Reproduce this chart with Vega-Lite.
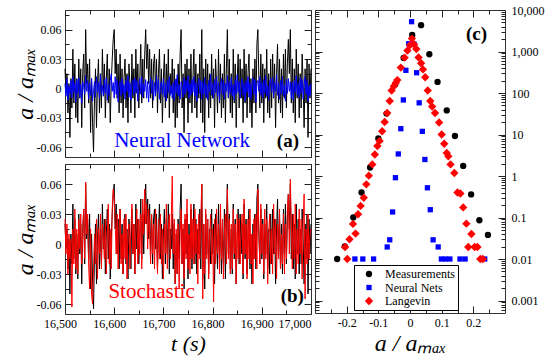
{
"$schema": "https://vega.github.io/schema/vega-lite/v6.json",
"autosize": {"type": "pad"},
"padding": {"left": 12, "top": 3, "right": 2, "bottom": 2},
"background": "#ffffff",
"config": {
  "font": "Liberation Serif",
  "view": {"stroke": "#333333", "strokeWidth": 1},
  "axis": {"domain": false, "grid": false, "labelFont": "Liberation Serif", "labelFontSize": 12, "labelColor": "#000000", "tickColor": "#222222", "tickWidth": 1, "titleFont": "Liberation Serif", "titleFontSize": 24, "titleFontWeight": "normal", "titleFontStyle": "italic", "titleColor": "#000000", "labelOverlap": false, "labelBound": false, "labelFlush": false}
},
"datasets": {
"ts": [
{"t":16500,"m":0.02,"n":0.005,"s":0.025},
{"t":16502,"m":-0.005,"n":-0.008,"s":-0.01},
{"t":16504,"m":0.015,"n":0.01,"s":0.02},
{"t":16506,"m":-0.025,"n":-0.012,"s":-0.03},
{"t":16508,"m":0.005,"n":0.003,"s":0.01},
{"t":16510,"m":-0.05,"n":-0.006,"s":-0.015},
{"t":16512,"m":0.01,"n":0.008,"s":0.005},
{"t":16514,"m":-0.02,"n":-0.01,"s":-0.063},
{"t":16516,"m":0.04,"n":0.012,"s":0.015},
{"t":16518,"m":-0.015,"n":-0.004,"s":-0.02},
{"t":16520,"m":0.025,"n":0.006,"s":0.035},
{"t":16522,"m":-0.03,"n":-0.014,"s":-0.025},
{"t":16524,"m":0.01,"n":0.009,"s":0.015},
{"t":16526,"m":-0.035,"n":-0.005,"s":-0.03},
{"t":16528,"m":0.03,"n":0.011,"s":0.025},
{"t":16530,"m":-0.01,"n":-0.009,"s":-0.005},
{"t":16532,"m":0.02,"n":0.004,"s":0.03},
{"t":16534,"m":-0.04,"n":-0.015,"s":-0.02},
{"t":16536,"m":0.015,"n":0.007,"s":0.01},
{"t":16538,"m":0.035,"n":0.002,"s":0.035},
{"t":16540,"m":-0.02,"n":-0.006,"s":-0.015},
{"t":16542,"m":0.06,"n":0.013,"s":0.062},
{"t":16544,"m":0.005,"n":-0.003,"s":0.01},
{"t":16546,"m":0.025,"n":0.008,"s":0.03},
{"t":16548,"m":-0.015,"n":-0.011,"s":-0.02},
{"t":16550,"m":0.03,"n":0.005,"s":-0.045},
{"t":16552,"m":-0.045,"n":-0.007,"s":0.015},
{"t":16554,"m":0.01,"n":0.01,"s":-0.05},
{"t":16556,"m":-0.035,"n":-0.013,"s":-0.06},
{"t":16558,"m":-0.065,"n":-0.002,"s":-0.025},
{"t":16560,"m":-0.01,"n":0.007,"s":0.01},
{"t":16562,"m":0.02,"n":-0.009,"s":-0.02},
{"t":16564,"m":-0.04,"n":0.012,"s":0.025},
{"t":16566,"m":0.005,"n":-0.004,"s":-0.035},
{"t":16568,"m":0.03,"n":0.006,"s":0.015},
{"t":16570,"m":-0.025,"n":-0.01,"s":-0.01},
{"t":16572,"m":0.015,"n":0.014,"s":0.03},
{"t":16574,"m":-0.02,"n":-0.006,"s":-0.025},
{"t":16576,"m":0.04,"n":0.003,"s":0.02},
{"t":16578,"m":-0.005,"n":-0.008,"s":0.005},
{"t":16580,"m":0.025,"n":0.009,"s":-0.015},
{"t":16582,"m":-0.03,"n":-0.005,"s":0.025},
{"t":16584,"m":0.01,"n":0.011,"s":-0.03},
{"t":16586,"m":0.035,"n":-0.012,"s":0.01},
{"t":16588,"m":-0.015,"n":0.004,"s":0.04},
{"t":16590,"m":0.02,"n":-0.007,"s":-0.02},
{"t":16592,"m":-0.035,"n":0.008,"s":0.015},
{"t":16594,"m":0.005,"n":0.015,"s":-0.025},
{"t":16596,"m":0.03,"n":-0.003,"s":0.035},
{"t":16598,"m":0.05,"n":0.006,"s":0.055},
{"t":16600,"m":0.06,"n":-0.01,"s":0.045},
{"t":16602,"m":0.015,"n":0.012,"s":0.02},
{"t":16604,"m":0.04,"n":-0.006,"s":-0.01},
{"t":16606,"m":-0.01,"n":0.009,"s":0.03},
{"t":16608,"m":0.025,"n":-0.014,"s":-0.025},
{"t":16610,"m":-0.025,"n":0.003,"s":0.015},
{"t":16612,"m":0.035,"n":0.007,"s":0.035},
{"t":16614,"m":-0.015,"n":-0.008,"s":-0.02},
{"t":16616,"m":0.02,"n":0.01,"s":0.01},
{"t":16618,"m":-0.03,"n":-0.005,"s":-0.03},
{"t":16620,"m":0.01,"n":0.004,"s":0.025},
{"t":16622,"m":0.03,"n":-0.011,"s":-0.015},
{"t":16624,"m":-0.02,"n":0.008,"s":0.03},
{"t":16626,"m":0.015,"n":-0.003,"s":-0.035},
{"t":16628,"m":-0.035,"n":0.013,"s":0.01},
{"t":16630,"m":0.025,"n":-0.009,"s":0.02},
{"t":16632,"m":0.005,"n":0.006,"s":-0.025},
{"t":16634,"m":-0.025,"n":-0.012,"s":0.015},
{"t":16636,"m":0.035,"n":0.005,"s":0.04},
{"t":16638,"m":-0.01,"n":0.009,"s":-0.01},
{"t":16640,"m":0.02,"n":-0.007,"s":0.02},
{"t":16642,"m":-0.03,"n":0.011,"s":-0.03},
{"t":16644,"m":0.04,"n":-0.004,"s":0.015},
{"t":16646,"m":-0.005,"n":0.008,"s":0.035},
{"t":16648,"m":0.025,"n":-0.013,"s":-0.02},
{"t":16650,"m":-0.02,"n":0.002,"s":0.025},
{"t":16652,"m":0.01,"n":0.01,"s":-0.01},
{"t":16654,"m":0.045,"n":-0.006,"s":0.03},
{"t":16656,"m":-0.015,"n":0.012,"s":-0.025},
{"t":16658,"m":0.03,"n":-0.009,"s":0.045},
{"t":16660,"m":-0.01,"n":0.005,"s":0.01},
{"t":16662,"m":0.035,"n":-0.003,"s":0.055},
{"t":16664,"m":0.06,"n":0.009,"s":0.02},
{"t":16666,"m":0.02,"n":-0.01,"s":0.04},
{"t":16668,"m":0.045,"n":0.007,"s":-0.005},
{"t":16670,"m":0.005,"n":-0.014,"s":0.035},
{"t":16672,"m":0.04,"n":0.004,"s":0.015},
{"t":16674,"m":-0.01,"n":0.011,"s":-0.02},
{"t":16676,"m":0.03,"n":-0.005,"s":0.03},
{"t":16678,"m":-0.02,"n":0.008,"s":-0.01},
{"t":16680,"m":0.025,"n":-0.012,"s":0.02},
{"t":16682,"m":0.035,"n":0.006,"s":-0.025},
{"t":16684,"m":-0.005,"n":-0.008,"s":0.035},
{"t":16686,"m":0.03,"n":0.013,"s":0.005},
{"t":16688,"m":-0.025,"n":-0.004,"s":-0.03},
{"t":16690,"m":0.015,"n":0.009,"s":0.025},
{"t":16692,"m":0.04,"n":-0.011,"s":-0.015},
{"t":16694,"m":-0.015,"n":0.003,"s":0.03},
{"t":16696,"m":0.02,"n":0.007,"s":-0.02},
{"t":16698,"m":-0.035,"n":-0.006,"s":0.015},
{"t":16700,"m":0.01,"n":0.01,"s":-0.035},
{"t":16702,"m":0.035,"n":-0.009,"s":0.02},
{"t":16704,"m":-0.02,"n":0.005,"s":-0.01},
{"t":16706,"m":0.025,"n":-0.013,"s":0.04},
{"t":16708,"m":-0.01,"n":0.008,"s":-0.025},
{"t":16710,"m":0.04,"n":-0.004,"s":0.015},
{"t":16712,"m":-0.03,"n":0.012,"s":0.03},
{"t":16714,"m":0.015,"n":-0.007,"s":-0.015},
{"t":16716,"m":-0.005,"n":0.003,"s":0.025},
{"t":16718,"m":0.03,"n":-0.01,"s":0.068},
{"t":16720,"m":-0.025,"n":0.006,"s":-0.01},
{"t":16722,"m":0.02,"n":-0.012,"s":0.025},
{"t":16724,"m":-0.04,"n":0.009,"s":-0.04},
{"t":16726,"m":0.01,"n":-0.005,"s":0.015},
{"t":16728,"m":-0.03,"n":0.014,"s":-0.03},
{"t":16730,"m":0.025,"n":-0.008,"s":0.02},
{"t":16732,"m":-0.015,"n":0.004,"s":-0.045},
{"t":16734,"m":0.035,"n":-0.011,"s":0.01},
{"t":16736,"m":0.06,"n":0.007,"s":0.035},
{"t":16738,"m":-0.02,"n":0.002,"s":-0.02},
{"t":16740,"m":0.015,"n":-0.009,"s":0.02},
{"t":16742,"m":-0.045,"n":0.011,"s":-0.035},
{"t":16744,"m":0.025,"n":-0.006,"s":0.03},
{"t":16746,"m":-0.01,"n":0.008,"s":-0.015},
{"t":16748,"m":0.03,"n":-0.003,"s":0.045},
{"t":16750,"m":-0.035,"n":0.013,"s":-0.025},
{"t":16752,"m":0.02,"n":-0.01,"s":0.01},
{"t":16754,"m":-0.015,"n":0.005,"s":-0.03},
{"t":16756,"m":0.035,"n":-0.007,"s":0.04},
{"t":16758,"m":-0.025,"n":0.009,"s":-0.015},
{"t":16760,"m":0.01,"n":-0.004,"s":0.025},
{"t":16762,"m":0.04,"n":0.012,"s":-0.02},
{"t":16764,"m":-0.02,"n":-0.008,"s":0.035},
{"t":16766,"m":0.025,"n":0.006,"s":-0.01},
{"t":16768,"m":-0.03,"n":-0.013,"s":0.02},
{"t":16770,"m":0.015,"n":0.003,"s":-0.04},
{"t":16772,"m":-0.01,"n":0.01,"s":0.03},
{"t":16774,"m":0.035,"n":-0.005,"s":-0.015},
{"t":16776,"m":-0.025,"n":0.008,"s":0.025},
{"t":16778,"m":0.06,"n":-0.011,"s":0.06},
{"t":16780,"m":-0.035,"n":0.007,"s":-0.055},
{"t":16782,"m":0.02,"n":-0.006,"s":0.02},
{"t":16784,"m":-0.045,"n":0.011,"s":-0.03},
{"t":16786,"m":0.03,"n":-0.009,"s":0.035},
{"t":16788,"m":-0.01,"n":0.004,"s":-0.015},
{"t":16790,"m":0.025,"n":-0.012,"s":0.025},
{"t":16792,"m":-0.03,"n":0.008,"s":-0.035},
{"t":16794,"m":0.015,"n":-0.003,"s":0.01},
{"t":16796,"m":-0.02,"n":0.014,"s":0.03},
{"t":16798,"m":0.035,"n":-0.007,"s":-0.02},
{"t":16800,"m":-0.01,"n":0.005,"s":0.015},
{"t":16802,"m":0.02,"n":-0.01,"s":-0.058},
{"t":16804,"m":-0.04,"n":0.009,"s":0.025},
{"t":16806,"m":0.03,"n":-0.004,"s":-0.02},
{"t":16808,"m":0.005,"n":0.012,"s":0.035},
{"t":16810,"m":-0.025,"n":-0.008,"s":-0.01},
{"t":16812,"m":0.04,"n":0.006,"s":0.02},
{"t":16814,"m":-0.015,"n":-0.013,"s":-0.03},
{"t":16816,"m":0.025,"n":0.003,"s":0.04},
{"t":16818,"m":-0.03,"n":0.01,"s":-0.015},
{"t":16820,"m":0.015,"n":-0.006,"s":0.025},
{"t":16822,"m":-0.02,"n":0.008,"s":-0.035},
{"t":16824,"m":0.035,"n":-0.011,"s":0.01},
{"t":16826,"m":-0.035,"n":0.005,"s":0.03},
{"t":16828,"m":0.02,"n":-0.003,"s":-0.02},
{"t":16830,"m":0.06,"n":0.013,"s":0.055},
{"t":16832,"m":-0.01,"n":-0.009,"s":-0.015},
{"t":16834,"m":0.03,"n":0.007,"s":0.025},
{"t":16836,"m":-0.025,"n":-0.005,"s":-0.03},
{"t":16838,"m":0.015,"n":0.011,"s":0.02},
{"t":16840,"m":-0.03,"n":-0.008,"s":-0.025},
{"t":16842,"m":0.04,"n":0.004,"s":0.035},
{"t":16844,"m":-0.015,"n":-0.012,"s":-0.01},
{"t":16846,"m":0.025,"n":0.009,"s":0.02},
{"t":16848,"m":-0.04,"n":-0.006,"s":-0.04},
{"t":16850,"m":0.01,"n":0.014,"s":0.03},
{"t":16852,"m":0.035,"n":-0.004,"s":-0.015},
{"t":16854,"m":-0.02,"n":0.007,"s":0.025},
{"t":16856,"m":0.03,"n":-0.01,"s":-0.02},
{"t":16858,"m":-0.01,"n":0.003,"s":0.015},
{"t":16860,"m":0.02,"n":0.01,"s":0.03},
{"t":16862,"m":-0.035,"n":-0.007,"s":-0.03},
{"t":16864,"m":0.04,"n":0.005,"s":0.045},
{"t":16866,"m":-0.015,"n":-0.013,"s":-0.01},
{"t":16868,"m":0.025,"n":0.008,"s":0.02},
{"t":16870,"m":-0.03,"n":-0.004,"s":-0.035},
{"t":16872,"m":0.015,"n":0.012,"s":0.025},
{"t":16874,"m":0.035,"n":-0.009,"s":-0.015},
{"t":16876,"m":-0.025,"n":0.006,"s":0.035},
{"t":16878,"m":0.01,"n":-0.011,"s":-0.02},
{"t":16880,"m":-0.04,"n":0.004,"s":0.01},
{"t":16882,"m":0.02,"n":0.011,"s":-0.04},
{"t":16884,"m":-0.015,"n":-0.006,"s":0.025},
{"t":16886,"m":0.03,"n":0.009,"s":-0.015},
{"t":16888,"m":-0.025,"n":-0.014,"s":0.03},
{"t":16890,"m":0.045,"n":0.005,"s":-0.025},
{"t":16892,"m":0.06,"n":0.008,"s":0.055},
{"t":16894,"m":0.01,"n":-0.003,"s":0.015},
{"t":16896,"m":-0.02,"n":0.012,"s":-0.02},
{"t":16898,"m":0.035,"n":-0.007,"s":0.04},
{"t":16900,"m":-0.015,"n":0.006,"s":-0.01},
{"t":16902,"m":0.025,"n":-0.01,"s":0.02},
{"t":16904,"m":-0.035,"n":0.009,"s":-0.03},
{"t":16906,"m":0.02,"n":-0.005,"s":0.035},
{"t":16908,"m":-0.01,"n":0.013,"s":-0.015},
{"t":16910,"m":0.04,"n":-0.008,"s":0.025},
{"t":16912,"m":-0.025,"n":0.003,"s":-0.04},
{"t":16914,"m":0.015,"n":-0.012,"s":0.01},
{"t":16916,"m":-0.03,"n":0.007,"s":0.03},
{"t":16918,"m":0.03,"n":0.01,"s":-0.02},
{"t":16920,"m":-0.02,"n":-0.004,"s":0.015},
{"t":16922,"m":0.035,"n":0.011,"s":-0.03},
{"t":16924,"m":-0.01,"n":-0.009,"s":0.04},
{"t":16926,"m":0.025,"n":0.006,"s":-0.01},
{"t":16928,"m":-0.04,"n":-0.003,"s":0.025},
{"t":16930,"m":0.015,"n":0.014,"s":-0.035},
{"t":16932,"m":0.045,"n":-0.007,"s":0.02},
{"t":16934,"m":-0.015,"n":0.005,"s":-0.015},
{"t":16936,"m":0.03,"n":-0.011,"s":0.035},
{"t":16938,"m":-0.025,"n":0.008,"s":-0.025},
{"t":16940,"m":0.02,"n":-0.006,"s":0.01},
{"t":16942,"m":-0.03,"n":0.012,"s":-0.02},
{"t":16944,"m":0.035,"n":-0.008,"s":0.03},
{"t":16946,"m":-0.01,"n":0.004,"s":-0.03},
{"t":16948,"m":0.04,"n":-0.013,"s":0.02},
{"t":16950,"m":-0.02,"n":0.009,"s":-0.015},
{"t":16952,"m":0.025,"n":-0.005,"s":0.035},
{"t":16954,"m":0.05,"n":0.01,"s":0.05},
{"t":16956,"m":0.015,"n":-0.003,"s":-0.01},
{"t":16958,"m":0.06,"n":0.007,"s":0.065},
{"t":16960,"m":-0.015,"n":-0.01,"s":0.02},
{"t":16962,"m":0.03,"n":0.006,"s":-0.025},
{"t":16964,"m":-0.025,"n":-0.012,"s":0.03},
{"t":16966,"m":0.02,"n":0.008,"s":-0.015},
{"t":16968,"m":-0.035,"n":-0.004,"s":0.04},
{"t":16970,"m":0.04,"n":0.013,"s":-0.03},
{"t":16972,"m":-0.01,"n":-0.007,"s":0.015},
{"t":16974,"m":0.025,"n":0.005,"s":-0.02},
{"t":16976,"m":-0.03,"n":-0.009,"s":0.035},
{"t":16978,"m":0.015,"n":0.011,"s":-0.01},
{"t":16980,"m":-0.02,"n":-0.005,"s":0.025},
{"t":16982,"m":0.035,"n":0.009,"s":-0.035},
{"t":16984,"m":0.005,"n":-0.011,"s":0.02},
{"t":16986,"m":-0.04,"n":0.004,"s":0.05},
{"t":16988,"m":0.02,"n":0.012,"s":-0.055},
{"t":16990,"m":-0.015,"n":-0.006,"s":0.015},
{"t":16992,"m":0.03,"n":0.008,"s":-0.02},
{"t":16994,"m":-0.05,"n":-0.013,"s":0.03},
{"t":16996,"m":0.025,"n":0.003,"s":-0.015},
{"t":16998,"m":-0.01,"n":-0.008,"s":0.01},
{"t":17000,"m":0.02,"n":0.005,"s":0.015}
],
"pdf": [
{"x":-0.230,"p":0.01,"g":"Measurements"},
{"x":-0.206,"p":0.02,"g":"Measurements"},
{"x":-0.179,"p":0.10,"g":"Measurements"},
{"x":-0.153,"p":0.40,"g":"Measurements"},
{"x":-0.126,"p":1.6,"g":"Measurements"},
{"x":-0.100,"p":8,"g":"Measurements"},
{"x":-0.074,"p":32,"g":"Measurements"},
{"x":-0.047,"p":162,"g":"Measurements"},
{"x":-0.020,"p":700,"g":"Measurements"},
{"x":0.007,"p":2500,"g":"Measurements"},
{"x":0.035,"p":4300,"g":"Measurements"},
{"x":0.061,"p":860,"g":"Measurements"},
{"x":0.087,"p":185,"g":"Measurements"},
{"x":0.116,"p":38,"g":"Measurements"},
{"x":0.142,"p":9.2,"g":"Measurements"},
{"x":0.168,"p":1.75,"g":"Measurements"},
{"x":0.193,"p":0.36,"g":"Measurements"},
{"x":0.219,"p":0.086,"g":"Measurements"},
{"x":0.246,"p":0.038,"g":"Measurements"},
{"x":-0.174,"p":0.01,"g":"Neural Nets"},
{"x":-0.149,"p":0.01,"g":"Neural Nets"},
{"x":-0.115,"p":0.01,"g":"Neural Nets"},
{"x":-0.072,"p":0.0195,"g":"Neural Nets"},
{"x":-0.064,"p":0.029,"g":"Neural Nets"},
{"x":-0.055,"p":0.136,"g":"Neural Nets"},
{"x":-0.046,"p":0.91,"g":"Neural Nets"},
{"x":-0.037,"p":3.4,"g":"Neural Nets"},
{"x":-0.029,"p":13.8,"g":"Neural Nets"},
{"x":-0.021,"p":68,"g":"Neural Nets"},
{"x":-0.013,"p":352,"g":"Neural Nets"},
{"x":-0.004,"p":1540,"g":"Neural Nets"},
{"x":0.005,"p":5230,"g":"Neural Nets"},
{"x":0.013,"p":1500,"g":"Neural Nets"},
{"x":0.021,"p":308,"g":"Neural Nets"},
{"x":0.029,"p":58,"g":"Neural Nets"},
{"x":0.039,"p":11.9,"g":"Neural Nets"},
{"x":0.047,"p":2.5,"g":"Neural Nets"},
{"x":0.055,"p":0.52,"g":"Neural Nets"},
{"x":0.064,"p":0.154,"g":"Neural Nets"},
{"x":0.073,"p":0.029,"g":"Neural Nets"},
{"x":0.089,"p":0.0195,"g":"Neural Nets"},
{"x":0.099,"p":0.01,"g":"Neural Nets"},
{"x":0.112,"p":0.01,"g":"Neural Nets"},
{"x":0.126,"p":0.01,"g":"Neural Nets"},
{"x":0.158,"p":0.01,"g":"Neural Nets"},
{"x":0.174,"p":0.01,"g":"Neural Nets"},
{"x":0.236,"p":0.01,"g":"Neural Nets"},
{"x":-0.205,"p":0.0195,"g":"Langevin"},
{"x":-0.198,"p":0.01,"g":"Langevin"},
{"x":-0.191,"p":0.03,"g":"Langevin"},
{"x":-0.180,"p":0.07,"g":"Langevin"},
{"x":-0.172,"p":0.041,"g":"Langevin"},
{"x":-0.164,"p":0.12,"g":"Langevin"},
{"x":-0.156,"p":0.19,"g":"Langevin"},
{"x":-0.146,"p":0.3,"g":"Langevin"},
{"x":-0.138,"p":0.63,"g":"Langevin"},
{"x":-0.130,"p":1.02,"g":"Langevin"},
{"x":-0.119,"p":1.9,"g":"Langevin"},
{"x":-0.111,"p":3.3,"g":"Langevin"},
{"x":-0.103,"p":5.3,"g":"Langevin"},
{"x":-0.096,"p":7,"g":"Langevin"},
{"x":-0.088,"p":12,"g":"Langevin"},
{"x":-0.080,"p":20,"g":"Langevin"},
{"x":-0.072,"p":33,"g":"Langevin"},
{"x":-0.064,"p":64,"g":"Langevin"},
{"x":-0.058,"p":115,"g":"Langevin"},
{"x":-0.051,"p":145,"g":"Langevin"},
{"x":-0.045,"p":175,"g":"Langevin"},
{"x":-0.040,"p":205,"g":"Langevin"},
{"x":-0.029,"p":410,"g":"Langevin"},
{"x":-0.017,"p":710,"g":"Langevin"},
{"x":-0.008,"p":1050,"g":"Langevin"},
{"x":0.000,"p":1420,"g":"Langevin"},
{"x":0.006,"p":2050,"g":"Langevin"},
{"x":0.013,"p":1480,"g":"Langevin"},
{"x":0.020,"p":1150,"g":"Langevin"},
{"x":0.027,"p":720,"g":"Langevin"},
{"x":0.035,"p":520,"g":"Langevin"},
{"x":0.041,"p":370,"g":"Langevin"},
{"x":0.048,"p":240,"g":"Langevin"},
{"x":0.056,"p":115,"g":"Langevin"},
{"x":0.064,"p":64,"g":"Langevin"},
{"x":0.070,"p":47,"g":"Langevin"},
{"x":0.079,"p":33,"g":"Langevin"},
{"x":0.092,"p":19.5,"g":"Langevin"},
{"x":0.100,"p":10,"g":"Langevin"},
{"x":0.108,"p":6,"g":"Langevin"},
{"x":0.116,"p":3.6,"g":"Langevin"},
{"x":0.121,"p":3,"g":"Langevin"},
{"x":0.128,"p":1.9,"g":"Langevin"},
{"x":0.140,"p":1.18,"g":"Langevin"},
{"x":0.150,"p":0.4,"g":"Langevin"},
{"x":0.159,"p":0.38,"g":"Langevin"},
{"x":0.168,"p":0.175,"g":"Langevin"},
{"x":0.178,"p":0.071,"g":"Langevin"},
{"x":0.194,"p":0.04,"g":"Langevin"},
{"x":0.184,"p":0.0195,"g":"Langevin"},
{"x":0.204,"p":0.0195,"g":"Langevin"},
{"x":0.213,"p":0.0195,"g":"Langevin"},
{"x":0.222,"p":0.01,"g":"Langevin"},
{"x":0.230,"p":0.01,"g":"Langevin"}
]
},
"spacing": 0,
"hconcat": [
{
 "bounds": "flush",
 "spacing": 7,
 "vconcat": [
  {
   "width": 246, "height": 147,
   "data": {"name": "ts"},
   "resolve": {"axis": {"x": "independent", "y": "independent"}},
   "layer": [
    {"mark": {"type": "line", "color": "#000000", "strokeWidth": 1},
     "encoding": {
      "x": {"field": "t", "type": "quantitative", "scale": {"domain": [16500, 17000], "nice": false, "zero": false},
            "axis": {"orient": "bottom", "labels": false, "title": null, "values": [16500,16550,16600,16650,16700,16750,16800,16850,16900,16950,17000],
                     "tickSize": {"condition": {"test": "datum.value % 100 == 0", "value": -7}, "value": -4}}},
      "y": {"field": "m", "type": "quantitative", "scale": {"domain": [-0.07, 0.08], "nice": false, "zero": false},
            "axis": {"orient": "left", "title": "a / aₘₐₓ", "titlePadding": -1, "labelPadding": 11,
                     "values": [-0.06,-0.045,-0.03,-0.015,0,0.015,0.03,0.045,0.06,0.075],
                     "labelExpr": "abs(round(datum.value*1000)) % 30 == 0 ? (datum.value == 0 ? '0' : replace(format(datum.value, '.2f'), '−', '-')) : ''",
                     "tickSize": {"condition": {"test": "abs(round(datum.value*1000)) % 30 == 0", "value": -7}, "value": -4}}}
     }},
    {"mark": {"type": "line", "color": "#0000ff", "strokeWidth": 1},
     "encoding": {
      "x": {"field": "t", "type": "quantitative", "scale": {"domain": [16500, 17000], "nice": false, "zero": false},
            "axis": {"orient": "top", "labels": false, "title": null, "values": [16500,16550,16600,16650,16700,16750,16800,16850,16900,16950,17000],
                     "tickSize": {"condition": {"test": "datum.value % 100 == 0", "value": -7}, "value": -4}}},
      "y": {"field": "n", "type": "quantitative", "scale": {"domain": [-0.07, 0.08], "nice": false, "zero": false},
            "axis": {"orient": "right", "labels": false, "title": null,
                     "values": [-0.06,-0.045,-0.03,-0.015,0,0.015,0.03,0.045,0.06,0.075],
                     "tickSize": {"condition": {"test": "abs(round(datum.value*1000)) % 30 == 0", "value": -7}, "value": -4}}}
     }},
    {"data": {"values": [{"label": "Neural Network"}]},
     "mark": {"type": "text", "color": "#0000ff", "font": "Liberation Serif", "fontSize": 21, "align": "center", "baseline": "alphabetic"},
     "encoding": {
      "x": {"datum": 16738, "type": "quantitative", "scale": {"domain": [16500, 17000], "nice": false, "zero": false}, "axis": null},
      "y": {"datum": -0.0593, "type": "quantitative", "scale": {"domain": [-0.07, 0.08], "nice": false, "zero": false}, "axis": null},
      "text": {"field": "label"}
     }},
    {"data": {"values": [{"label": "(a)"}]},
     "mark": {"type": "text", "color": "#000000", "font": "Liberation Serif", "fontSize": 19, "fontWeight": "bold", "align": "center", "baseline": "alphabetic"},
     "encoding": {
      "x": {"datum": 16953, "type": "quantitative", "scale": {"domain": [16500, 17000], "nice": false, "zero": false}, "axis": null},
      "y": {"datum": -0.0593, "type": "quantitative", "scale": {"domain": [-0.07, 0.08], "nice": false, "zero": false}, "axis": null},
      "text": {"field": "label"}
     }}
   ]
  },
  {
   "width": 246, "height": 150,
   "data": {"name": "ts"},
   "resolve": {"axis": {"x": "independent", "y": "independent"}},
   "layer": [
    {"mark": {"type": "line", "color": "#000000", "strokeWidth": 1},
     "encoding": {
      "x": {"field": "t", "type": "quantitative", "scale": {"domain": [16500, 17000], "nice": false, "zero": false},
            "axis": {"orient": "bottom", "title": "t (s)", "titleFontSize": 22, "titlePadding": 1, "labelPadding": 11,
                     "labelAlign": {"condition": {"test": "datum.value == 17000", "value": "right"}, "value": "center"},
                     "labelOffset": {"condition": {"test": "datum.value == 17000", "value": 0}, "value": -5},
                     "values": [16500,16550,16600,16650,16700,16750,16800,16850,16900,16950,17000],
                     "labelExpr": "datum.value % 100 == 0 ? format(datum.value, ',') : ''",
                     "tickSize": {"condition": {"test": "datum.value % 100 == 0", "value": -7}, "value": -4}}},
      "y": {"field": "m", "type": "quantitative", "scale": {"domain": [-0.07, 0.08], "nice": false, "zero": false},
            "axis": {"orient": "left", "title": "a / aₘₐₓ", "titlePadding": -1, "labelPadding": 11,
                     "values": [-0.06,-0.045,-0.03,-0.015,0,0.015,0.03,0.045,0.06,0.075],
                     "labelExpr": "abs(round(datum.value*1000)) % 30 == 0 ? (datum.value == 0 ? '0' : replace(format(datum.value, '.2f'), '−', '-')) : ''",
                     "tickSize": {"condition": {"test": "abs(round(datum.value*1000)) % 30 == 0", "value": -7}, "value": -4}}}
     }},
    {"mark": {"type": "line", "color": "#ff0000", "strokeWidth": 1},
     "encoding": {
      "x": {"field": "t", "type": "quantitative", "scale": {"domain": [16500, 17000], "nice": false, "zero": false},
            "axis": {"orient": "top", "labels": false, "title": null, "values": [16500,16550,16600,16650,16700,16750,16800,16850,16900,16950,17000],
                     "tickSize": {"condition": {"test": "datum.value % 100 == 0", "value": -7}, "value": -4}}},
      "y": {"field": "s", "type": "quantitative", "scale": {"domain": [-0.07, 0.08], "nice": false, "zero": false},
            "axis": {"orient": "right", "labels": false, "title": null,
                     "values": [-0.06,-0.045,-0.03,-0.015,0,0.015,0.03,0.045,0.06,0.075],
                     "tickSize": {"condition": {"test": "abs(round(datum.value*1000)) % 30 == 0", "value": -7}, "value": -4}}}
     }},
    {"data": {"values": [{"label": "Stochastic"}]},
     "mark": {"type": "text", "color": "#ff0000", "font": "Liberation Serif", "fontSize": 21, "align": "center", "baseline": "alphabetic"},
     "encoding": {
      "x": {"datum": 16676, "type": "quantitative", "scale": {"domain": [16500, 17000], "nice": false, "zero": false}, "axis": null},
      "y": {"datum": -0.0537, "type": "quantitative", "scale": {"domain": [-0.07, 0.08], "nice": false, "zero": false}, "axis": null},
      "text": {"field": "label"}
     }},
    {"data": {"values": [{"label": "(b)"}]},
     "mark": {"type": "text", "color": "#000000", "font": "Liberation Serif", "fontSize": 19, "fontWeight": "bold", "align": "center", "baseline": "alphabetic"},
     "encoding": {
      "x": {"datum": 16962, "type": "quantitative", "scale": {"domain": [16500, 17000], "nice": false, "zero": false}, "axis": null},
      "y": {"datum": -0.0575, "type": "quantitative", "scale": {"domain": [-0.07, 0.08], "nice": false, "zero": false}, "axis": null},
      "text": {"field": "label"}
     }}
   ]
  }
 ]
},
{
 "width": 190, "height": 303,
 "resolve": {"axis": {"x": "independent", "y": "independent"}},
 "layer": [
  {"data": {"name": "pdf"},
   "mark": {"type": "point", "filled": true, "opacity": 1, "strokeWidth": 0},
   "encoding": {
    "x": {"field": "x", "type": "quantitative", "scale": {"domain": [-0.3, 0.3], "nice": false, "zero": false},
          "axis": {"orient": "bottom", "title": "a / aₘₐₓ", "titlePadding": 0, "labelPadding": 11,
                   "values": [-0.25,-0.2,-0.15,-0.1,-0.05,0,0.05,0.1,0.15,0.2,0.25],
                   "labelExpr": "abs(round(datum.value*100)) % 10 == 0 ? (abs(datum.value) < 0.001 ? '0' : replace(format(datum.value, '.1f'), '−', '-')) : ''",
                   "tickSize": {"condition": {"test": "abs(round(datum.value*100)) % 10 == 0", "value": -7}, "value": -4}}},
    "y": {"field": "p", "type": "quantitative", "scale": {"type": "log", "domain": [0.0005, 10000], "nice": false},
          "axis": {"orient": "right", "title": null, "labelPadding": 13, "labelAlign": "left",
                   "values": [0.0006,0.0007,0.0008,0.0009,0.001,0.002,0.003,0.004,0.005,0.006,0.007,0.008,0.009,0.01,0.02,0.03,0.04,0.05,0.06,0.07,0.08,0.09,0.1,0.2,0.3,0.4,0.5,0.6,0.7,0.8,0.9,1,2,3,4,5,6,7,8,9,10,20,30,40,50,60,70,80,90,100,200,300,400,500,600,700,800,900,1000,2000,3000,4000,5000,6000,7000,8000,9000,10000],
                   "labelExpr": "abs(log(datum.value)/LN10 - round(log(datum.value)/LN10)) < 0.001 ? (datum.value >= 1 ? format(datum.value, ',') : format(datum.value, '~g')) : ''",
                   "tickSize": {"condition": {"test": "abs(log(datum.value)/LN10 - round(log(datum.value)/LN10)) < 0.001", "value": -7}, "value": -4}}},
    "color": {"field": "g", "type": "nominal", "scale": {"domain": ["Measurements", "Neural Nets", "Langevin"], "range": ["#000000", "#0000ff", "#ff0000"]},
              "legend": {"title": null, "orient": "none", "legendX": 289, "legendY": 255, "fillColor": "#ffffff", "strokeColor": "#000000", "padding": 3, "symbolOffset": 6, "labelOffset": 10, "rowPadding": 1.5, "labelFont": "Liberation Serif", "labelFontSize": 12, "labelColor": "#000000", "symbolStrokeWidth": 0}},
    "shape": {"field": "g", "type": "nominal", "scale": {"domain": ["Measurements", "Neural Nets", "Langevin"], "range": ["circle", "square", "diamond"]}},
    "size": {"field": "g", "type": "nominal", "scale": {"type": "ordinal", "domain": ["Measurements", "Neural Nets", "Langevin"], "range": [40, 28, 70]}}
   }},
  {"data": {"values": [{"label": "(c)"}]},
   "mark": {"type": "text", "color": "#000000", "font": "Liberation Serif", "fontSize": 19, "fontWeight": "bold", "align": "center", "baseline": "alphabetic"},
   "encoding": {
    "x": {"datum": 0.21, "type": "quantitative", "scale": {"domain": [-0.3, 0.3], "nice": false, "zero": false},
          "axis": {"orient": "top", "labels": false, "title": null, "values": [-0.25,-0.2,-0.15,-0.1,-0.05,0,0.05,0.1,0.15,0.2,0.25],
                   "tickSize": {"condition": {"test": "abs(round(datum.value*100)) % 10 == 0", "value": -7}, "value": -4}}},
    "y": {"datum": 1945, "type": "quantitative", "scale": {"type": "log", "domain": [0.0005, 10000], "nice": false},
          "axis": {"orient": "left", "labels": false, "title": null,
                   "values": [0.0006,0.0007,0.0008,0.0009,0.001,0.002,0.003,0.004,0.005,0.006,0.007,0.008,0.009,0.01,0.02,0.03,0.04,0.05,0.06,0.07,0.08,0.09,0.1,0.2,0.3,0.4,0.5,0.6,0.7,0.8,0.9,1,2,3,4,5,6,7,8,9,10,20,30,40,50,60,70,80,90,100,200,300,400,500,600,700,800,900,1000,2000,3000,4000,5000,6000,7000,8000,9000,10000],
                   "tickSize": {"condition": {"test": "abs(log(datum.value)/LN10 - round(log(datum.value)/LN10)) < 0.001", "value": -7}, "value": -4}}},
    "text": {"field": "label"}
   }}
 ]
}
]
}
